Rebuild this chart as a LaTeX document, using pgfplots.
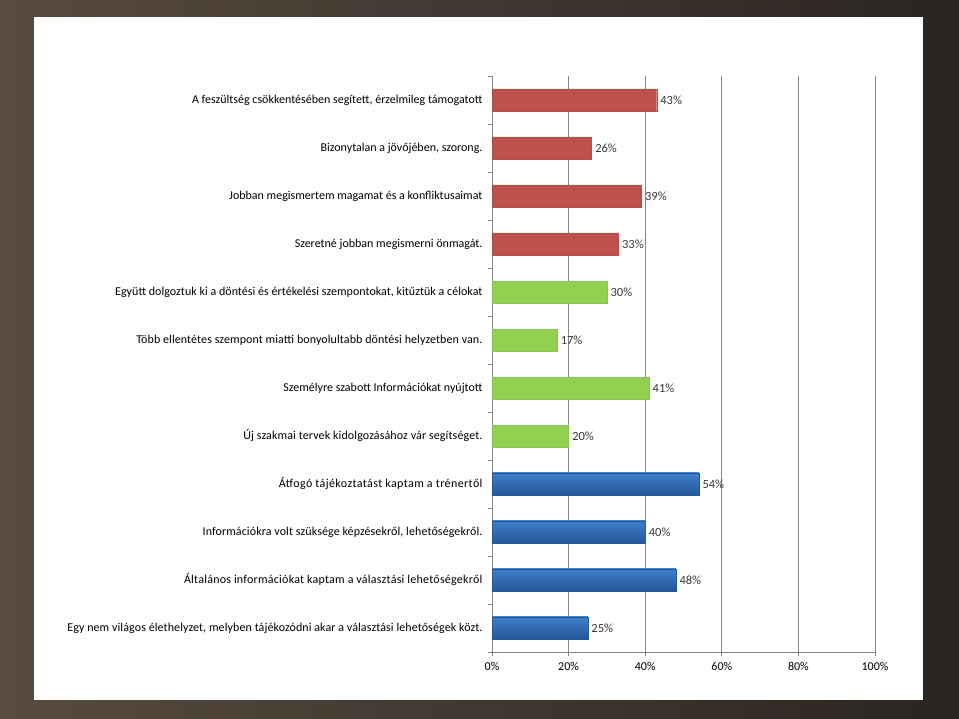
\documentclass[border=0pt]{standalone}
\usepackage{fontspec}
\setmainfont{Carlito}
\usepackage{pgfplots}
\pgfplotsset{compat=1.18}
\definecolor{frameL}{HTML}{584B3E}
\definecolor{frameR}{HTML}{2A2421}
\definecolor{barred}{HTML}{C0504D}
\definecolor{bargreen}{HTML}{92D050}
\definecolor{bluetop}{HTML}{3F7FCC}
\definecolor{bluebot}{HTML}{24579A}
\definecolor{axisgray}{HTML}{868686}
\definecolor{labgray}{HTML}{3A3A3A}
\begin{document}
\begin{tikzpicture}[x=1bp,y=1bp]
\useasboundingbox (0,0) rectangle (959,719);
\shade[left color=frameL, right color=frameR] (0,0) rectangle (959,719);
\fill[white] (34,19) rectangle (923,702);
\begin{axis}[
    at={(492bp,67bp)}, anchor=south west,
    scale only axis, width=383bp, height=576bp,
    xbar, bar shift=0pt, bar width=22bp,
    xmin=0, xmax=100, ymin=-0.5, ymax=11.5,
    axis x line*=bottom, axis y line*=left,
    axis line style={axisgray, line width=0.9bp},
    tick align=outside,
    xtick={0,20,40,60,80,100},
    xticklabels={0\%,20\%,40\%,60\%,80\%,100\%},
    x tick style={axisgray, line width=0.9bp},
    major tick length=4bp,
    xmajorgrids=true,
    grid style={axisgray, line width=0.9bp},
    ytick={0,...,11},
    y tick style={draw=none},
    yticklabels={
      {\addfontfeature{LetterSpace=0.8}Egy nem világos élethelyzet, melyben tájékozódni akar a választási lehetőségek közt.},
      {\addfontfeature{LetterSpace=2}Általános információkat kaptam a választási lehetőségekről},
      {\addfontfeature{LetterSpace=0.8}Információkra volt szüksége képzésekről, lehetőségekről.},
      {\addfontfeature{LetterSpace=3.3}Átfogó tájékoztatást kaptam a trénertől},
      {\addfontfeature{LetterSpace=1}Új szakmai tervek kidolgozásához vár segítséget.},
      Személyre szabott Információkat nyújtott,
      {\addfontfeature{LetterSpace=0.8}Több ellentétes szempont miatti bonyolultabb döntési helyzetben van.},
      {\addfontfeature{LetterSpace=0.3}Együtt dolgoztuk ki a döntési és értékelési szempontokat, kitűztük a célokat},
      Szeretné jobban megismerni önmagát.,
      Jobban megismertem magamat és a konfliktusaimat,
      Bizonytalan a jövőjében{,} szorong.,
      A feszültség csökkentésében segített{,} érzelmileg támogatott},
    extra y ticks={-0.5,0.5,...,11.5},
    extra y tick labels={},
    extra y tick style={y tick style={draw=axisgray, line width=0.9bp}},
    ticklabel style={font=\fontsize{12bp}{14bp}\selectfont, text=black},
    yticklabel style={xshift=-2bp},
    xticklabel style={yshift=-3bp},
    /pgf/number format/assume math mode=true,
    nodes near coords={\pgfmathprintnumber{\pgfplotspointmeta}\%},
    point meta=x,
    every node near coord/.append style={font=\fontsize{12.5bp}{14bp}\selectfont, text=labgray, anchor=west, inner sep=2bp, xshift=1.5bp},
    clip=false,
]
\addplot[fill=barred, draw=barred!95!black] coordinates {
    (43,11) (26,10) (39,9) (33,8)
};
\addplot[fill=bargreen, draw=bargreen!95!black] coordinates {
    (30,7) (17,6) (41,5) (20,4)
};
\addplot[top color=bluetop, bottom color=bluebot, draw=bluebot] coordinates {(54,3)};
\addplot[top color=bluetop, bottom color=bluebot, draw=bluebot] coordinates {(40,2)};
\addplot[top color=bluetop, bottom color=bluebot, draw=bluebot] coordinates {(48,1)};
\addplot[top color=bluetop, bottom color=bluebot, draw=bluebot] coordinates {(25,0)};
\end{axis}
\end{tikzpicture}
\end{document}
